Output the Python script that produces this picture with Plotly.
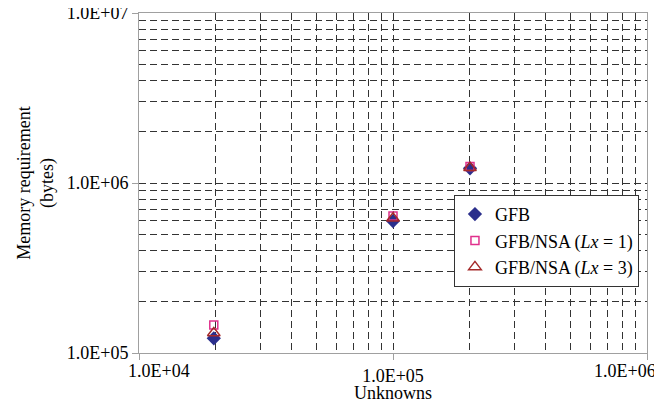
import plotly.graph_objects as go

unknowns = [19700, 100000, 201000]
gfb = [122000, 597000, 1220000]
nsa_lx1 = [146000, 640000, 1250000]
nsa_lx3 = [131000, 620000, 1230000]

x_tickvals = [1e4, 1e5, 1e6]
x_ticktext = ["1.0E+04", "1.0E+05", "1.0E+06"]
y_tickvals = [1e5, 1e6, 1e7]
y_ticktext = ["1.0E+05", "1.0E+06", "1.0E+07"]

names = ["GFB", "GFB/NSA (<i>Lx</i> = 1)", "GFB/NSA (<i>Lx</i> = 3)"]

x_minor = [m * d for d in (1e4, 1e5) for m in range(2, 10)]
y_minor = [m * d for d in (1e5, 1e6) for m in range(2, 10)]

fig = go.Figure()
fig.add_trace(go.Scatter(x=unknowns, y=gfb, mode="markers", name=names[0],
                         marker=dict(symbol="diamond", size=11, color="#2B2F8C")))
fig.add_trace(go.Scatter(x=unknowns, y=nsa_lx1, mode="markers", name=names[1],
                         marker=dict(symbol="square-open", size=8, color="#E0308C", line=dict(width=1.5))))
fig.add_trace(go.Scatter(x=unknowns, y=nsa_lx3, mode="markers", name=names[2],
                         marker=dict(symbol="triangle-up-open", size=11, color="#A52A2A", line=dict(width=1.5))))

font = "Liberation Serif, Times New Roman, serif"
dash = "7px,4px"
axis_common = dict(
    type="log", showline=True, linecolor="#A0A0A0", linewidth=1, mirror=True,
    showgrid=True, gridcolor="#333333", griddash=dash, gridwidth=1,
    ticks="outside", ticklen=6, tickcolor="#A0A0A0",
    tickfont=dict(family=font, size=18, color="black"),
    ticklabeloverflow="allow",
    zeroline=False, automargin=False,
)
# middle x label drawn by the axis; the two edge labels are pulled inward (as in the reference)
fig.update_xaxes(**axis_common, range=[4, 6], tickvals=x_tickvals,
                 ticktext=["", x_ticktext[1], ""],
                 minor=dict(showgrid=True, gridcolor="#333333", griddash=dash, gridwidth=1,
                            tickvals=x_minor, ticks=""),
                 title=dict(text="Unknowns", font=dict(family=font, size=18, color="black"), standoff=4))
fig.update_yaxes(**axis_common, range=[5, 7], tickvals=y_tickvals, ticktext=y_ticktext,
                 minor=dict(showgrid=True, gridcolor="#333333", griddash=dash, gridwidth=1,
                            tickvals=y_minor, ticks=""),
                 title=dict(text="Memory requirement<br>(bytes)", font=dict(family=font, size=18, color="black"), standoff=8))

import math
fig.add_annotation(x=math.log10(x_tickvals[0]), xref="x", y=0, yref="paper",
                   text=x_ticktext[0], showarrow=False, xanchor="left", yanchor="top",
                   xshift=-13, yshift=-6, font=dict(family=font, size=18, color="black"))
fig.add_annotation(x=math.log10(x_tickvals[2]), xref="x", y=0, yref="paper",
                   text=x_ticktext[2], showarrow=False, xanchor="right", yanchor="top",
                   xshift=11, yshift=-6, font=dict(family=font, size=18, color="black"))

fig.update_layout(
    width=654, height=395,
    margin=dict(l=131, r=15, t=5, b=50),
    paper_bgcolor="white", plot_bgcolor="white",
    font=dict(family=font, color="black"),
    showlegend=True,
    legend=dict(x=0.62, y=0.465, xanchor="left", yanchor="top",
                bordercolor="#333333", borderwidth=1, bgcolor="white",
                font=dict(family=font, size=18, color="black"),
                itemwidth=30, tracegroupgap=0),
)
fig.write_html("out.html")
